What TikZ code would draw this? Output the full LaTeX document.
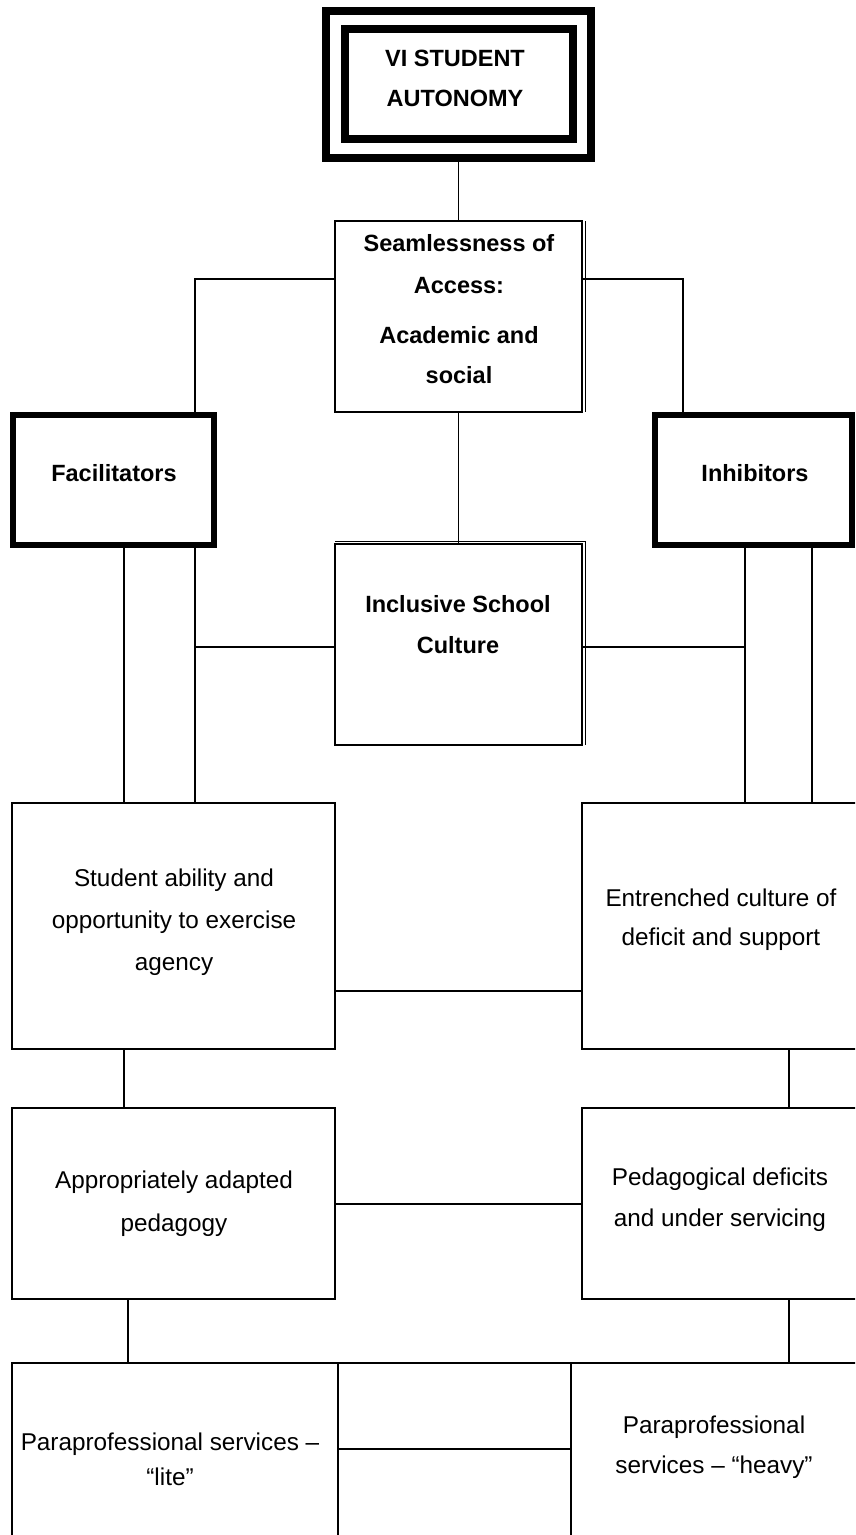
\documentclass[tikz,border=0pt]{standalone}
\usepackage{fontspec}
\setmainfont{Liberation Sans}
\begin{document}
\begin{tikzpicture}[x=1pt,y=-1pt,
  box/.style={draw, rectangle, line width=1.8pt, inner sep=0pt, outer sep=0pt},
  heavybox/.style={box, line width=5.5pt},
  framebox/.style={box, line width=8pt},
  link/.style={line width=1.8pt},
  thinline/.style={line width=0.9pt},
  bt/.style={font=\fontsize{23.5}{27}\selectfont\bfseries, anchor=base, inner sep=0pt},
  rt/.style={font=\fontsize{24.3}{28}\selectfont, anchor=base, inner sep=0pt}]
\useasboundingbox (0,0) rectangle (855,1535);
\fill[white] (0,0) rectangle (855,1535);
\clip (0,0) rectangle (855,1535);

% boxes
\node[framebox, minimum width=265pt, minimum height=147pt] (topO) at (458.5,84.5) {};
\node[framebox, minimum width=228pt, minimum height=110pt] (topI) at (458.5,83.5) {};
\node[box, minimum width=247pt, minimum height=191pt] (seam) at (458.5,316.5) {};
\node[heavybox, minimum width=201pt, minimum height=130pt] (fac) at (113.5,480) {};
\node[heavybox, minimum width=197pt, minimum height=130pt] (inh) at (753.5,480) {};
\node[box, minimum width=247pt, minimum height=201pt] (incl) at (458.5,644.5) {};
\node[box, minimum width=323pt, minimum height=246pt] (stud) at (173.5,926) {};
\node[box, minimum width=298pt, minimum height=246pt] (entr) at (731,926) {};
\node[box, minimum width=323pt, minimum height=191pt] (appr) at (173.5,1203.5) {};
\node[box, minimum width=298pt, minimum height=191pt] (peda) at (731,1203.5) {};
\node[box, minimum width=326pt, minimum height=197pt] (lite) at (175,1461.5) {};
\node[box, minimum width=233pt, minimum height=86pt] (midA) at (454.5,1406) {};
\node[box, minimum width=233pt, minimum height=111pt] (midB) at (454.5,1504.5) {};
\node[box, minimum width=309pt, minimum height=197pt] (heavy) at (725.5,1461.5) {};

% double-line accents
\draw[thinline] ([xshift=3pt]seam.north east) -- ([xshift=3pt]seam.south east);
\draw[thinline] ([yshift=3pt]incl.north west) -- ([xshift=3pt,yshift=3pt]incl.north east) -- ([xshift=3pt]incl.south east);

% bend points
\coordinate (jl) at (195,279);
\coordinate (jr) at (683,279);
\coordinate (fl1) at (124,0);
\coordinate (fl2) at (195,647);
\coordinate (ir1) at (745,647);
\coordinate (ir2) at (812,0);
\coordinate (sl) at (0,991);
\coordinate (pl) at (0,1204);
\coordinate (cl) at (124,0);
\coordinate (cr) at (789,0);
\coordinate (dl) at (128,0);

% connectors
\draw[link] (topO.south) -- (seam.north);
\draw[link] (seam.west |- jl) -- (jl) -- (jl |- fac.north);
\draw[link] (seam.east |- jr) -- (jr) -- (jr |- inh.north);
\draw[link] (seam.south) -- (incl.north);
\draw[link] (fl1 |- fac.south) -- (fl1 |- stud.north);
\draw[link] (fl2 |- fac.south) -- (fl2 |- stud.north);
\draw[link] (fl2) -- (incl.west |- fl2);
\draw[link] (ir1 |- inh.south) -- (ir1 |- entr.north);
\draw[link] (ir2 |- inh.south) -- (ir2 |- entr.north);
\draw[link] (incl.east |- ir1) -- (ir1);
\draw[link] (stud.east |- sl) -- (entr.west |- sl);
\draw[link] (cl |- stud.south) -- (cl |- appr.north);
\draw[link] (cr |- entr.south) -- (cr |- peda.north);
\draw[link] (appr.east |- pl) -- (peda.west |- pl);
\draw[link] (dl |- appr.south) -- (dl |- lite.north);
\draw[link] (cr |- peda.south) -- (cr |- heavy.north);

% texts
\node[bt] (t1) at (455,66) {VI STUDENT};
\node[bt] (t2) at (455,106) {AUTONOMY};
\node[bt] (t3) at (459,251) {Seamlessness of};
\node[bt] (t4) at (459,293) {Access:};
\node[bt] (t5) at (459,343) {Academic and};
\node[bt] (t6) at (459,383) {social};
\node[bt] (t7) at (114,481) {Facilitators};
\node[bt] (t8) at (755,481) {Inhibitors};
\node[bt] (t9) at (458,612) {Inclusive School};
\node[bt] (t10) at (458,653) {Culture};
\node[rt] (t11) at (174,886) {Student ability and};
\node[rt] (t12) at (174,928) {opportunity to exercise};
\node[rt] (t13) at (174,970) {agency};
\node[rt] (t14) at (721,906) {Entrenched culture of};
\node[rt] (t15) at (721,945) {deficit and support};
\node[rt] (t16) at (174,1188) {Appropriately adapted};
\node[rt] (t17) at (174,1231) {pedagogy};
\node[rt] (t18) at (720,1185) {Pedagogical deficits};
\node[rt] (t19) at (720,1226) {and under servicing};
\node[rt] (t20) at (170,1450) {Paraprofessional services –};
\node[rt] (t21) at (170,1485) {“lite”};
\node[rt] (t22) at (714,1433) {Paraprofessional};
\node[rt] (t23) at (714,1473) {services – “heavy”};
\end{tikzpicture}
\end{document}
